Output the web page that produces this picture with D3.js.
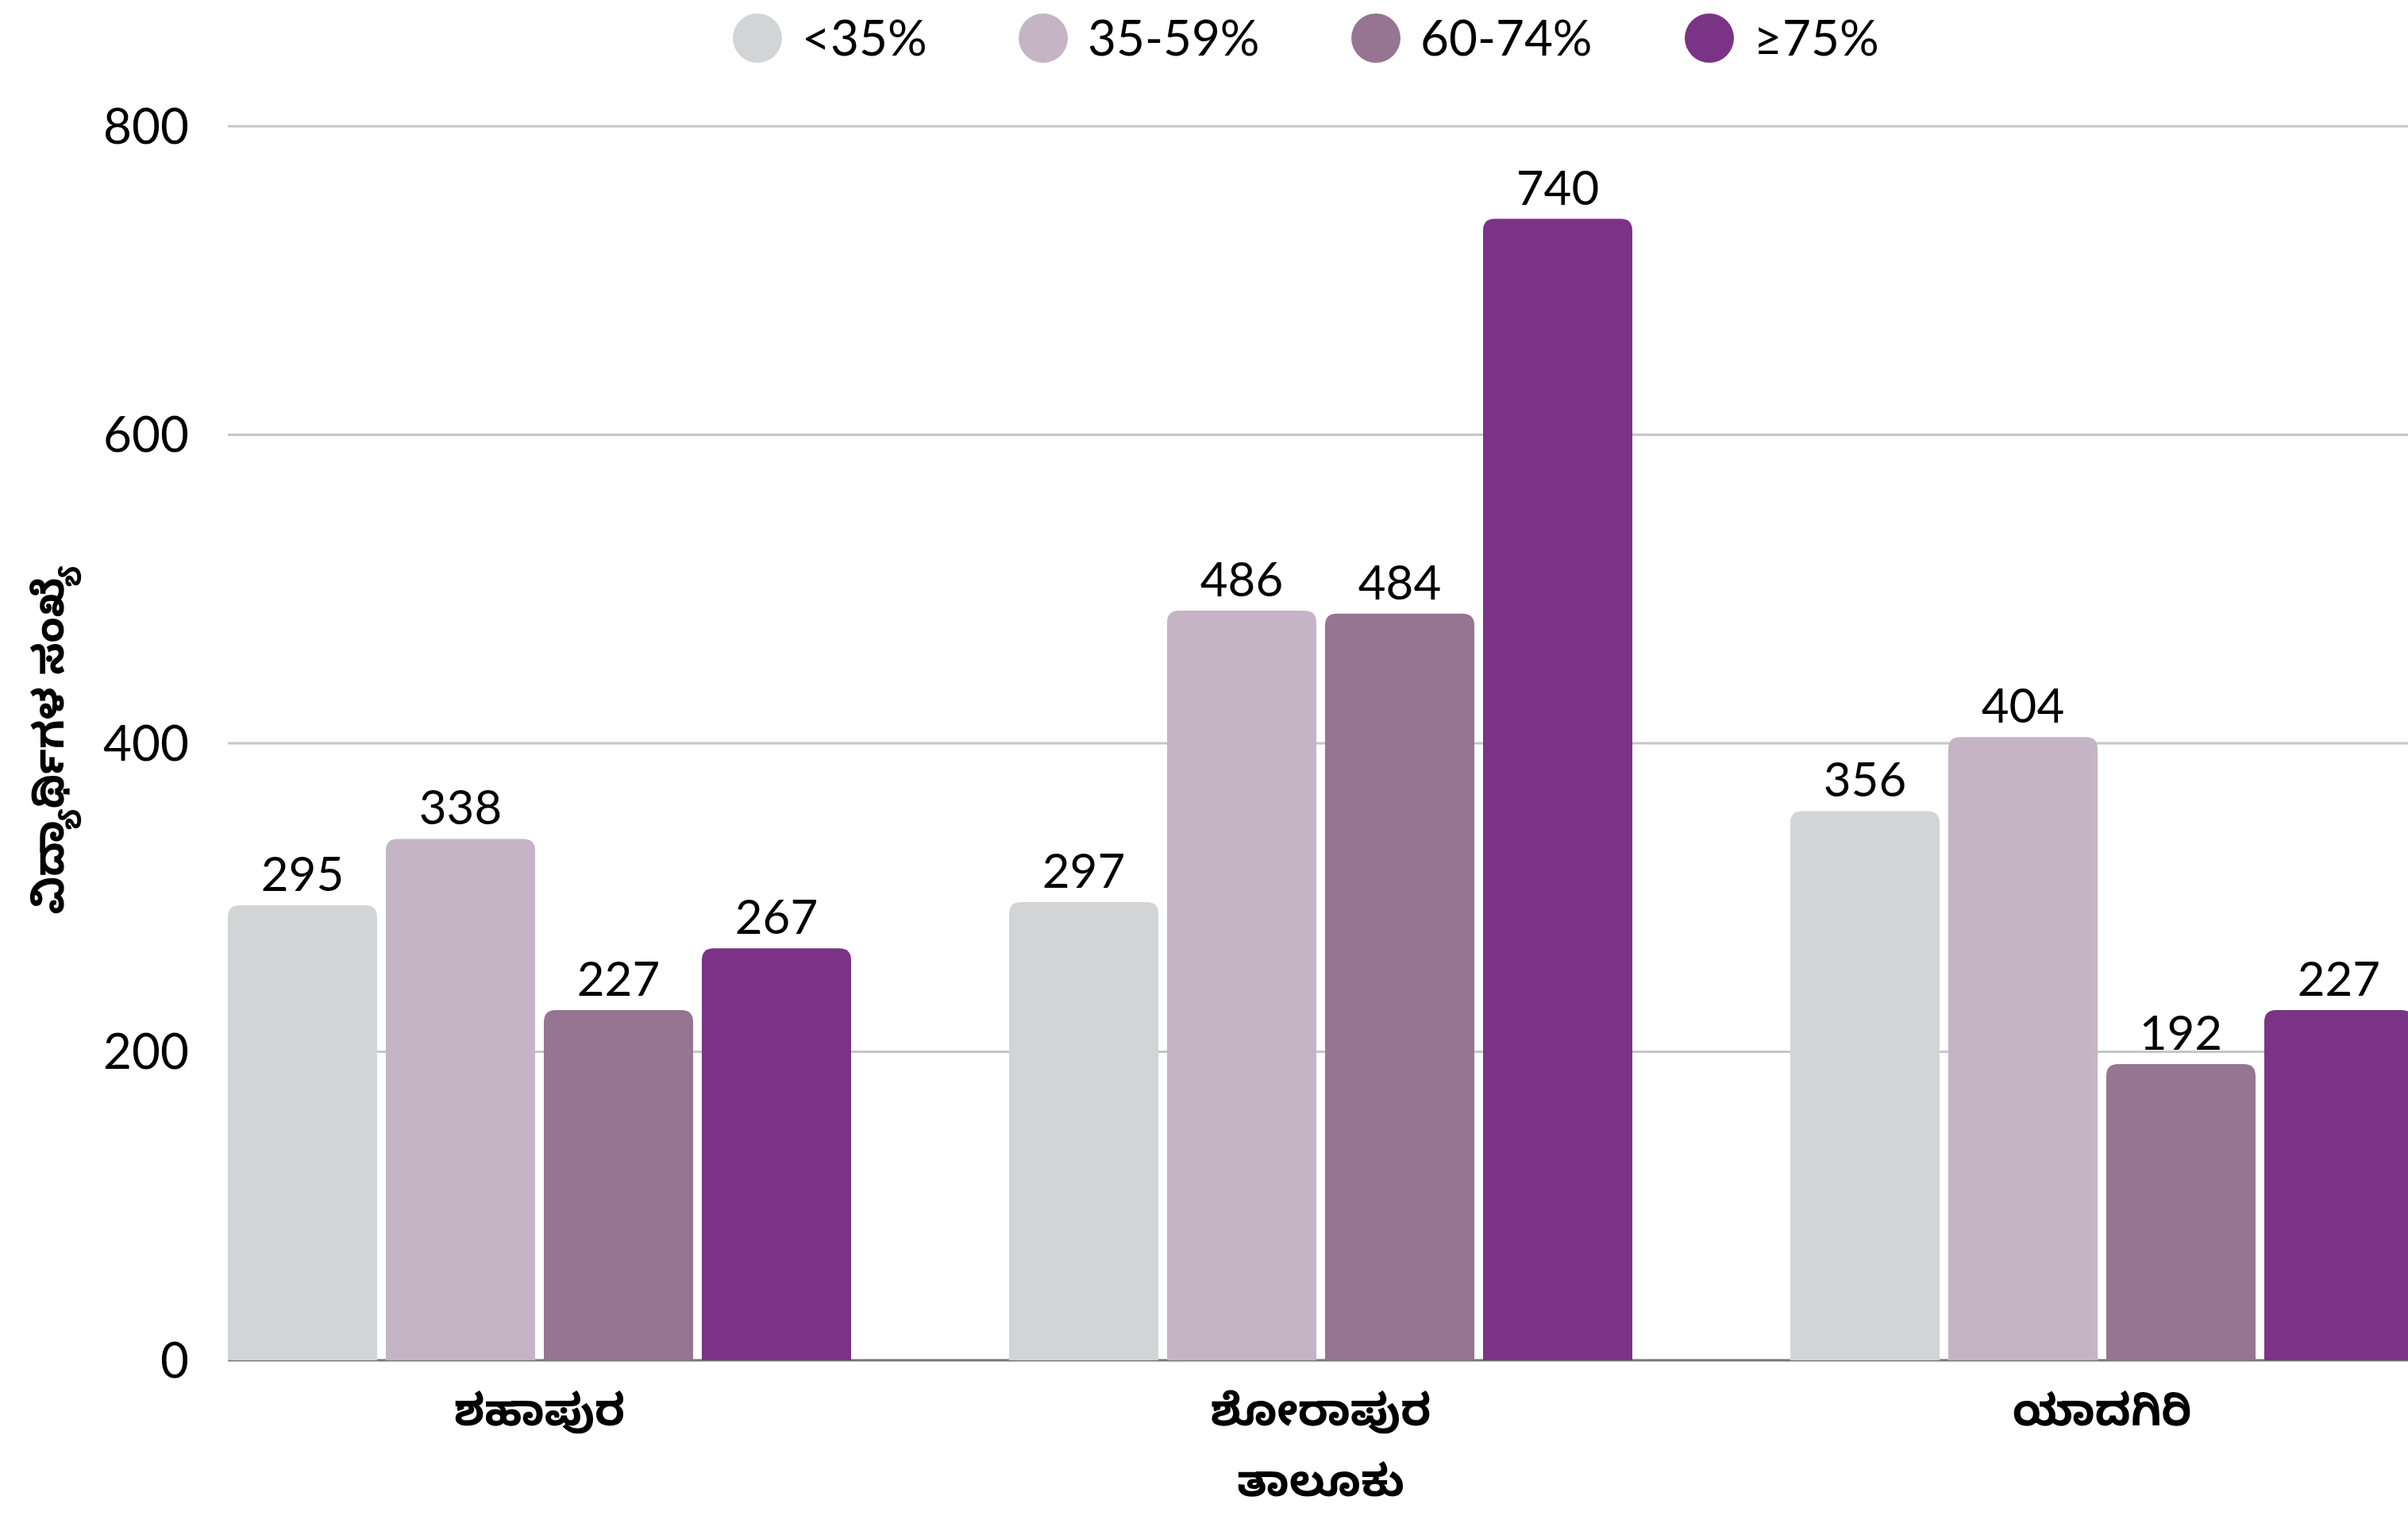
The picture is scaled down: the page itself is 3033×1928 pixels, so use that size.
<!DOCTYPE html>
<html>
<head>
<meta charset="utf-8">
<script src="https://cdn.jsdelivr.net/npm/d3@7/dist/d3.min.js"></script>
<style>
html,body{margin:0;padding:0;background:#fff;overflow:hidden;}
svg{display:block;}
</style>
</head>
<body>
<svg id="chart" width="3033" height="1928"></svg>
<script>
const categories = ["ಶಹಾಪುರ", "ಶೋರಾಪುರ", "ಯಾದಗಿರಿ"];
const seriesNames = ["<35%", "35-59%", "60-74%", "≥75%"];
const seriesColors = ["#d3d4d6", "#c5b4c5", "#957591", "#7b3385"];
const lt35 = [295, 297, 356];
const s35to59 = [338, 486, 404];
const s60to74 = [227, 484, 192];
const ge75 = [267, 740, 227];
const yTicks = [0, 200, 400, 600, 800];
const yTitle = "ವಿದ್ಯಾರ್ಥಿಗಳ ಸಂಖ್ಯೆ";
const xTitle = "ತಾಲೂಕು";

const series = [lt35, s35to59, s60to74, ge75];
const numFont = "Lato, 'Noto Sans', sans-serif";
const knFont = "'Noto Sans Kannada', 'Noto Sans', 'Lohit Kannada', sans-serif";

const svg = d3.select("#chart");
const pLeft = 287, pRight = 3040, pTop = 159, pBottom = 1713;

const x0 = d3.scaleBand().domain(categories).range([pLeft, pRight]).paddingInner(0.2022).paddingOuter(0);
const x1 = d3.scaleBand().domain(d3.range(series.length)).range([0, x0.bandwidth()]).paddingInner(0.055).paddingOuter(0);
const y = d3.scaleLinear().domain([0, 800]).range([pBottom, pTop]);

// gridlines
svg.append("g").selectAll("line").data(yTicks.filter(d => d > 0)).join("line")
  .attr("x1", pLeft).attr("x2", 3033)
  .attr("y1", d => y(d)).attr("y2", d => y(d))
  .attr("stroke", "#c6c6c6").attr("stroke-width", 3);

// y axis labels
const yAxis = d3.axisLeft(y).tickValues(yTicks).tickSize(0).tickPadding(0);
const ya = svg.append("g").attr("transform", `translate(${238},0)`).call(yAxis);
ya.select(".domain").remove();
ya.selectAll("text").attr("font-family", numFont).attr("font-size", 62).attr("fill", "#000").attr("dy", "0.34em");

// baseline
svg.append("line").attr("x1", pLeft).attr("x2", 3033).attr("y1", y(0)).attr("y2", y(0))
  .attr("stroke", "#777").attr("stroke-width", 3);

function barPath(xp, w, yT, yB, r) {
  r = Math.min(r, w / 2, yB - yT);
  return `M${xp},${yB}V${yT + r}Q${xp},${yT} ${xp + r},${yT}H${xp + w - r}Q${xp + w},${yT} ${xp + w},${yT + r}V${yB}Z`;
}

const groups = svg.append("g").selectAll("g").data(categories).join("g")
  .attr("transform", d => `translate(${x0(d)},0)`);

groups.each(function(cat, ci) {
  const g = d3.select(this);
  series.forEach((s, si) => {
    const v = s[ci];
    g.append("path")
      .attr("d", barPath(x1(si), x1.bandwidth(), y(v), y(0), 15))
      .attr("fill", seriesColors[si]);
    g.append("text")
      .attr("x", x1(si) + x1.bandwidth() / 2)
      .attr("y", y(v) - 18)
      .attr("text-anchor", "middle")
      .attr("font-family", numFont).attr("font-size", 60).attr("fill", "#000")
      .text(v);
  });
});

// x labels
svg.append("g").selectAll("text").data(categories).join("text")
  .attr("x", d => x0(d) + x0.bandwidth() / 2)
  .attr("y", 1795)
  .attr("text-anchor", "middle")
  .attr("font-family", knFont).attr("font-size", 55).attr("font-weight", "bold").attr("fill", "#000")
  .text(d => d);

// x title
svg.append("text").attr("x", (pLeft + pRight) / 2).attr("y", 1884)
  .attr("text-anchor", "middle")
  .attr("font-family", knFont).attr("font-size", 55).attr("font-weight", "bold").attr("fill", "#000")
  .text(xTitle);

// y title
svg.append("text")
  .attr("transform", `translate(80,${(pTop + pBottom) / 2 - 4}) rotate(-90)`)
  .attr("text-anchor", "middle")
  .attr("font-family", knFont).attr("font-size", 53).attr("font-weight", "bold").attr("fill", "#000")
  .text(yTitle);

// legend
const legendX = [954, 1314, 1733, 2153];
const lg = svg.append("g").selectAll("g").data(seriesNames).join("g")
  .attr("transform", (d, i) => `translate(${legendX[i]},48)`);
lg.append("circle").attr("r", 31).attr("fill", (d, i) => seriesColors[i]);
lg.append("text").attr("x", 56).attr("dy", "0.36em")
  .attr("font-family", numFont).attr("font-size", 62).attr("fill", "#000")
  .text(d => d);
</script>
</body>
</html>
